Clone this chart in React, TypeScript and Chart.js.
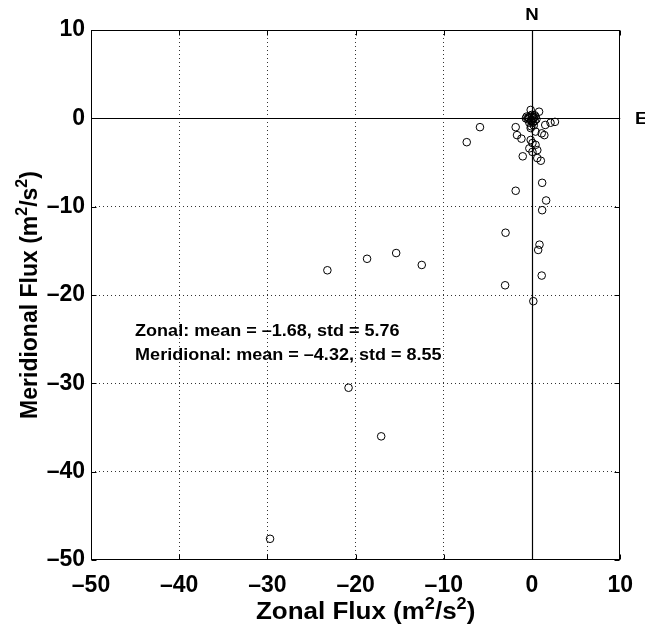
import { useEffect, useRef } from "react";
import { Chart, registerables } from "chart.js";

Chart.register(...registerables);

const zonalFlux = [
  -29.7, -17.1, -20.8, -23.2, -18.7, -15.4, -12.5, -7.4, -5.9, -1.85,
  -1.7, -1.2, -1.05, -1.85, -3.0, -3.05, 0.15, 1.1, 0.85, 0.7,
  1.15, 1.6, 1.15, 1.0, 0.6, 0.05, -0.3, 0.6, 0.4, 0.05,
  -0.15, 0.4, 1.1, 1.4, -0.15, 1.5, 2.1, 2.6, -0.15, 0.8,
  -0.6, -0.4, -0.2, 0.0, 0.2, 0.4, -0.5, -0.1, 0.3, 0.1,
  -0.3, 0.5, 0.2, -0.1, 0.0, -0.7, -0.35, 0.15, 0.3, -0.05,
];
const meridionalFlux = [
  -47.6, -36.0, -30.5, -17.2, -15.9, -15.25, -16.6, -2.7, -1.0, -1.0,
  -1.9, -2.3, -4.3, -8.2, -12.95, -18.9, -20.7, -17.8, -14.3, -14.9,
  -10.4, -9.3, -7.3, -4.8, -4.5, -3.8, -3.4, -3.6, -3.0, -2.8,
  -2.45, -1.5, -1.7, -1.9, -1.1, -0.75, -0.5, -0.4, 0.95, 0.75,
  0.2, 0.1, 0.3, 0.2, 0.1, 0.2, -0.1, -0.2, -0.3, -0.5,
  -0.5, -0.1, -0.8, -0.9, 0.4, 0.0, 0.0, 0.0, 0.35, -0.35,
];
const xTicks = [-50, -40, -30, -20, -10, 0, 10];
const yTicks = [-50, -40, -30, -20, -10, 0, 10];
const statsLines = [
  "Zonal: mean = \u20131.68, std = 5.76",
  "Meridional: mean = \u20134.32, std = 8.55",
];
const xTitle = [{ t: "Zonal Flux (m" }, { t: "2", sup: true }, { t: "/s" }, { t: "2", sup: true }, { t: ")" }];
const yTitle = [{ t: "Meridional Flux (m" }, { t: "2", sup: true }, { t: "/s" }, { t: "2", sup: true }, { t: ")" }];
const northLabel = "N";
const eastLabel = "E";

const FAMILY = '"Liberation Sans", Arial, Helvetica, sans-serif';

type Part = { t: string; sup?: boolean };

function drawRich(
  ctx: CanvasRenderingContext2D,
  parts: Part[],
  x: number,
  y: number,
  size: number,
  align: "left" | "center",
  sx: number
) {
  const supSize = Math.round(size * 0.68);
  let total = 0;
  const widths: number[] = [];
  for (const p of parts) {
    ctx.font = `bold ${p.sup ? supSize : size}px ${FAMILY}`;
    const w = ctx.measureText(p.t).width;
    widths.push(w);
    total += w;
  }
  ctx.save();
  ctx.translate(x, y);
  ctx.scale(sx, 1);
  let cx = align === "center" ? -total / 2 : 0;
  ctx.textBaseline = "alphabetic";
  ctx.textAlign = "left";
  ctx.fillStyle = "#000";
  parts.forEach((p, i) => {
    ctx.font = `bold ${p.sup ? supSize : size}px ${FAMILY}`;
    ctx.fillText(p.t, cx, p.sup ? -size * 0.42 : 0);
    cx += widths[i];
  });
  ctx.restore();
}

const fmt = (v: number) => (v < 0 ? "\u2013" + Math.abs(v) : String(v));

const overlay = {
  id: "overlay",
  beforeDatasetsDraw(chart: any) {
    const { ctx, scales } = chart;
    const { left, right, top, bottom } = chart.chartArea;
    const x0 = Math.round(scales.x.getPixelForValue(0)) + 0.5;
    const y0 = Math.round(scales.y.getPixelForValue(0)) + 0.5;
    ctx.save();
    ctx.strokeStyle = "#000";
    ctx.lineWidth = 1.2;
    ctx.beginPath();
    ctx.moveTo(x0, top);
    ctx.lineTo(x0, bottom);
    ctx.moveTo(left, y0);
    ctx.lineTo(right, y0);
    ctx.stroke();
    ctx.restore();
  },
  afterDraw(chart: any) {
    const { ctx, scales } = chart;
    const { left, right, top, bottom } = chart.chartArea;
    ctx.save();
    ctx.strokeStyle = "#000";
    ctx.lineWidth = 1;
    const L = Math.round(left) + 0.5;
    const R = Math.round(right) - 0.5;
    const T = Math.round(top) + 0.5;
    const B = Math.round(bottom) - 0.5;
    ctx.strokeRect(L, T, R - L, B - T);
    ctx.beginPath();
    const tl = 5;
    xTicks.forEach((v) => {
      const px = Math.round(scales.x.getPixelForValue(v)) + 0.5;
      ctx.moveTo(px, B);
      ctx.lineTo(px, B - tl);
      ctx.moveTo(px, T);
      ctx.lineTo(px, T + tl);
    });
    yTicks.forEach((v) => {
      const py = Math.round(scales.y.getPixelForValue(v)) + 0.5;
      ctx.moveTo(L, py);
      ctx.lineTo(L + tl, py);
      ctx.moveTo(R, py);
      ctx.lineTo(R - tl, py);
    });
    ctx.stroke();
    ctx.restore();

    // axis titles
    drawRich(ctx, xTitle, (left + right) / 2 + 10, 619, 23, "center", 1.13);
    ctx.save();
    ctx.translate(37, (top + bottom) / 2);
    ctx.rotate(-Math.PI / 2);
    drawRich(ctx, yTitle, 0, 0, 23, "center", 1.0);
    ctx.restore();

    // N and E
    const nx = scales.x.getPixelForValue(0);
    drawRich(ctx, [{ t: northLabel }], nx, 20, 17, "center", 1.1);
    const ey = scales.y.getPixelForValue(0);
    drawRich(ctx, [{ t: eastLabel }], 635, ey + 6, 17, "left", 1.1);

    // stats annotation
    const ax = scales.x.getPixelForValue(-45);
    drawRich(ctx, [{ t: statsLines[0] }], ax, 336, 17, "left", 1.06);
    drawRich(ctx, [{ t: statsLines[1] }], ax, 360, 17, "left", 1.06);
  },
};

export default function App() {
  const ref = useRef<HTMLCanvasElement | null>(null);
  useEffect(() => {
    document.body.style.margin = "0";
    const canvas = ref.current;
    if (!canvas) return;
    const gridColor = (c: any) => {
      const v = c.tick && c.tick.value;
      return v === 0 || v === -50 || v === 10 ? "rgba(0,0,0,0)" : "#333";
    };
    const tickFont = { family: FAMILY, size: 23, weight: "bold" as const };
    const chart = new Chart(canvas, {
      type: "scatter",
      data: {
        datasets: [
          {
            data: zonalFlux.map((x, i) => ({ x, y: meridionalFlux[i] })),
            pointStyle: "circle",
            pointRadius: 3.8,
            pointBorderWidth: 1,
            pointBorderColor: "#000",
            pointBackgroundColor: "rgba(0,0,0,0)",
            showLine: false,
          },
        ],
      },
      options: {
        responsive: false,
        animation: false,
        devicePixelRatio: 1,
        layout: { padding: { top: 30, right: 24, left: 0, bottom: 0 } },
        plugins: {
          legend: { display: false },
          tooltip: { enabled: false },
          title: { display: false },
        },
        scales: {
          x: {
            type: "linear",
            min: -50,
            max: 10,
            afterBuildTicks: (s: any) => {
              s.ticks = xTicks.map((v) => ({ value: v }));
            },
            afterFit: (s: any) => {
              s.height = 68;
            },
            ticks: {
              color: "#000",
              font: tickFont,
              padding: 12,
              maxRotation: 0,
              autoSkip: false,
              callback: (v: any) => fmt(Number(v)),
            },
            grid: { color: gridColor, lineWidth: 1, drawTicks: false, borderDash: [1, 3] } as any,
            border: { display: false, dash: [1, 3] },
          },
          y: {
            type: "linear",
            min: -50,
            max: 10,
            afterBuildTicks: (s: any) => {
              s.ticks = yTicks.map((v) => ({ value: v }));
            },
            afterFit: (s: any) => {
              s.width = 91;
            },
            ticks: {
              color: "#000",
              font: tickFont,
              padding: 6,
              autoSkip: false,
              callback: (v: any) => fmt(Number(v)),
            },
            grid: { color: gridColor, lineWidth: 1, drawTicks: false, borderDash: [1, 3] } as any,
            border: { display: false, dash: [1, 3] },
          },
        },
      },
      plugins: [overlay],
    });
    return () => chart.destroy();
  }, []);
  return (
    <div style={{ width: 645, height: 628, background: "#fff" }}>
      <canvas ref={ref} width={645} height={628} style={{ display: "block" }} />
    </div>
  );
}
